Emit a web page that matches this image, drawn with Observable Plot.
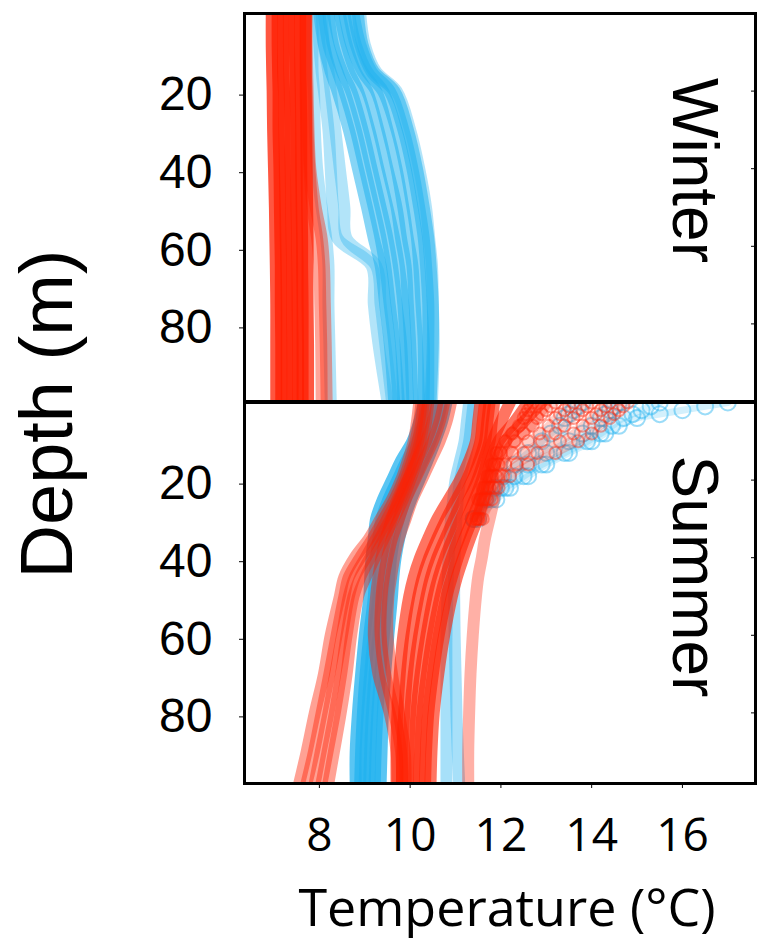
<!DOCTYPE html>
<html><head><meta charset="utf-8">
<script src="https://cdn.jsdelivr.net/npm/d3@7"></script>
<script src="https://cdn.jsdelivr.net/npm/@observablehq/plot@0.6"></script>
<style>
html,body{margin:0;padding:0;background:#fff;}
#chart{position:relative;width:758px;height:942px;overflow:hidden;background:#fff;}
#chart svg{display:block;}
#winter{position:absolute;left:0;top:0;}
#summer{position:absolute;left:0;top:402px;}
#labels{position:absolute;left:0;top:0;}
</style></head><body>
<div id="chart"><div id="winter"></div><div id="summer"></div></div>
<script>
// ---------- data ----------
const xDomain = [6.35, 17.61];
const xTicks = [8, 10, 12, 14, 16];
const yTicks = [20, 40, 60, 80];
const seasons = ["Winter", "Summer"];

// Winter: depth grid (m) and temperature profiles (°C)
const winterDepths = [0, 8, 15, 20, 30, 40, 50, 58, 65, 75, 85, 100];
const winterRed = [
  [6.95, 6.95, 6.96, 6.97, 6.98, 7.0, 7.02, 7.03, 7.04, 7.05, 7.05, 7.05],
  [7.08, 7.08, 7.09, 7.1, 7.1, 7.12, 7.13, 7.14, 7.15, 7.15, 7.16, 7.16],
  [7.2, 7.2, 7.2, 7.22, 7.23, 7.24, 7.25, 7.26, 7.27, 7.28, 7.28, 7.28],
  [7.33, 7.33, 7.34, 7.35, 7.36, 7.37, 7.38, 7.39, 7.4, 7.4, 7.41, 7.41],
  [7.46, 7.46, 7.47, 7.48, 7.49, 7.5, 7.5, 7.51, 7.52, 7.52, 7.53, 7.53],
  [7.58, 7.58, 7.58, 7.59, 7.6, 7.6, 7.61, 7.62, 7.62, 7.63, 7.63, 7.63],
  [7.7, 7.7, 7.7, 7.7, 7.71, 7.72, 7.73, 7.74, 7.74, 7.74, 7.75, 7.75]
];
const winterRedLight = [
  [7.72, 7.72, 7.73, 7.74, 7.76, 7.8, 7.92, 8.05, 8.1, 8.12, 8.14, 8.16],
  [7.7, 7.7, 7.7, 7.72, 7.74, 7.78, 7.85, 7.95, 8.0, 8.02, 8.04, 8.05]
];
const winterBlue = [
  [8.0, 8.1, 8.25, 8.4, 8.65, 8.85, 9.05, 9.2, 9.35, 9.45, 9.55, 9.65],
  [8.1, 8.2, 8.4, 8.55, 8.8, 9.0, 9.2, 9.35, 9.45, 9.55, 9.65, 9.75],
  [8.2, 8.3, 8.5, 8.7, 8.95, 9.15, 9.35, 9.5, 9.6, 9.7, 9.8, 9.85],
  [8.3, 8.45, 8.65, 8.85, 9.1, 9.3, 9.5, 9.65, 9.75, 9.85, 9.9, 9.95],
  [8.45, 8.6, 8.8, 9.05, 9.3, 9.5, 9.7, 9.8, 9.9, 9.95, 10.0, 10.05],
  [8.55, 8.7, 8.95, 9.25, 9.5, 9.7, 9.85, 9.95, 10.05, 10.1, 10.15, 10.2],
  [8.65, 8.8, 9.05, 9.4, 9.7, 9.9, 10.05, 10.15, 10.2, 10.25, 10.3, 10.3],
  [8.75, 8.9, 9.15, 9.55, 9.85, 10.05, 10.2, 10.3, 10.35, 10.4, 10.4, 10.4],
  [8.85, 8.95, 9.2, 9.65, 9.95, 10.15, 10.3, 10.4, 10.45, 10.5, 10.5, 10.45]
];
const winterBlueLight = [
  [7.85, 7.85, 7.85, 7.88, 7.9, 7.95, 8.05, 8.15, 8.2, 8.2, 8.22, 8.25],
  [7.97, 8.0, 8.05, 8.1, 8.2, 8.25, 8.3, 8.4, 9.15, 9.2, 9.3, 9.5],
  [8.05, 8.1, 8.2, 8.25, 8.35, 8.45, 8.55, 8.6, 9.25, 9.35, 9.45, 9.6],
  [8.9, 9.0, 9.25, 9.7, 10.0, 10.2, 10.35, 10.42, 10.48, 10.5, 10.52, 10.48]
];

// Summer: depth grid (m) and temperature profiles (°C)
const summerDepths = [0, 5, 10, 15, 20, 25, 30, 35, 40, 45, 50, 60, 70, 80, 90, 98];
const summerRedLeft = [
  [10.2, 10.15, 10.08, 9.95, 9.8, 9.6, 9.35, 9.1, 8.78, 8.55, 8.45, 8.25, 8.1, 7.9, 7.72, 7.56],
  [10.25, 10.2, 10.12, 10.0, 9.85, 9.66, 9.42, 9.18, 8.9, 8.65, 8.55, 8.38, 8.22, 8.05, 7.88, 7.72],
  [10.3, 10.25, 10.17, 10.05, 9.9, 9.72, 9.5, 9.26, 9.02, 8.78, 8.65, 8.5, 8.35, 8.2, 8.03, 7.9],
  [10.35, 10.3, 10.22, 10.1, 9.95, 9.78, 9.57, 9.34, 9.12, 8.9, 8.75, 8.6, 8.48, 8.34, 8.18, 8.05],
  [10.4, 10.35, 10.27, 10.15, 10.0, 9.84, 9.64, 9.42, 9.22, 9.02, 8.85, 8.7, 8.6, 8.47, 8.32, 8.2]
];
const summerRedMid = [
  [10.6, 10.5, 10.35, 10.15, 9.95, 9.75, 9.6, 9.47, 9.37, 9.3, 9.25, 9.2, 9.3, 9.55, 9.7, 9.72],
  [10.75, 10.65, 10.5, 10.3, 10.1, 9.9, 9.75, 9.6, 9.5, 9.42, 9.37, 9.35, 9.45, 9.65, 9.8, 9.82],
  [10.9, 10.8, 10.65, 10.45, 10.25, 10.05, 9.9, 9.75, 9.65, 9.58, 9.52, 9.5, 9.6, 9.75, 9.88, 9.9]
];
const summerRedRight = [
  [11.55, 11.5, 11.45, 11.3, 11.1, 10.85, 10.6, 10.4, 10.22, 10.08, 9.98, 9.85, 9.77, 9.72, 9.7, 9.7],
  [11.65, 11.6, 11.55, 11.42, 11.25, 11.02, 10.8, 10.6, 10.42, 10.28, 10.18, 10.03, 9.93, 9.87, 9.83, 9.82],
  [11.75, 11.7, 11.65, 11.52, 11.37, 11.17, 10.97, 10.78, 10.6, 10.46, 10.36, 10.2, 10.08, 10.0, 9.96, 9.95],
  [11.85, 11.8, 11.75, 11.62, 11.48, 11.3, 11.12, 10.94, 10.77, 10.63, 10.52, 10.36, 10.23, 10.14, 10.1, 10.08],
  [12.2, 12.0, 11.82, 11.7, 11.58, 11.42, 11.25, 11.08, 10.92, 10.78, 10.67, 10.5, 10.37, 10.27, 10.22, 10.2],
  [12.6, 12.3, 11.95, 11.78, 11.67, 11.53, 11.37, 11.2, 11.05, 10.92, 10.8, 10.63, 10.5, 10.4, 10.35, 10.33],
  [12.9, 12.5, 12.1, 11.9, 11.75, 11.62, 11.48, 11.32, 11.17, 11.03, 10.92, 10.75, 10.62, 10.52, 10.47, 10.45]
];
const summerRedPale = [
  [13.0, 12.7, 12.3, 12.05, 11.95, 11.85, 11.75, 11.65, 11.58, 11.5, 11.45, 11.38, 11.33, 11.3, 11.28, 11.28]
];
const summerBlue = [
  [10.3, 10.2, 10.05, 9.8, 9.6, 9.4, 9.25, 9.2, 9.15, 9.12, 9.1, 9.0, 8.92, 8.85, 8.8, 8.8],
  [10.4, 10.3, 10.15, 9.92, 9.72, 9.52, 9.37, 9.3, 9.25, 9.22, 9.2, 9.1, 9.02, 8.96, 8.92, 8.9],
  [10.5, 10.4, 10.25, 10.05, 9.85, 9.65, 9.5, 9.42, 9.37, 9.33, 9.3, 9.2, 9.12, 9.06, 9.02, 9.0],
  [10.6, 10.5, 10.35, 10.15, 9.97, 9.78, 9.62, 9.53, 9.48, 9.44, 9.4, 9.3, 9.22, 9.16, 9.12, 9.1],
  [10.7, 10.6, 10.45, 10.27, 10.08, 9.9, 9.75, 9.65, 9.58, 9.54, 9.5, 9.42, 9.34, 9.28, 9.24, 9.22],
  [10.8, 10.7, 10.55, 10.38, 10.2, 10.02, 9.87, 9.76, 9.68, 9.63, 9.6, 9.52, 9.45, 9.4, 9.37, 9.35]
];
const summerBlueLight = [
  [11.3, 11.25, 11.2, 11.1, 11.0, 10.95, 10.9, 10.88, 10.85, 10.83, 10.82, 10.8, 10.8, 10.8, 10.8, 10.8],
  [11.4, 11.35, 11.3, 11.2, 11.1, 11.05, 11.02, 11.0, 10.98, 10.97, 10.97, 10.98, 11.0, 11.02, 11.05, 11.08]
];
// Summer surface layer: finer depth grid
const surfaceDepths = [0, 1, 2, 3, 4, 6, 8, 10, 13, 16, 19, 22, 25, 30];
const surfaceBlue = [
  [17.0, 16.5, 16.0, 15.5, 15.0, 14.6, 14.3, 14.0, 13.5, 13.0, 12.6, 12.2, 11.9, 11.5],
  [15.5, 15.3, 15.1, 14.9, 14.7, 14.45, 14.2, 13.9, 13.4, 12.9, 12.5, 12.1, 11.8, 11.4],
  [14.6, 14.5, 14.4, 14.3, 14.2, 14.0, 13.8, 13.5, 13.0, 12.6, 12.3, 12.0, 11.7, 11.4],
  [13.8, 13.7, 13.6, 13.5, 13.4, 13.3, 13.1, 12.9, 12.6, 12.3, 12.05, 11.85, 11.65, 11.4]
];
const surfaceRed = [
  [14.8, 14.7, 14.6, 14.5, 14.4, 14.2, 14.0, 13.7, 13.2, 12.6, 12.2, 11.95, 11.8, 11.6],
  [14.4, 14.3, 14.2, 14.1, 14.0, 13.8, 13.6, 13.3, 12.8, 12.35, 12.05, 11.85, 11.7, 11.55],
  [14.0, 13.9, 13.8, 13.7, 13.6, 13.4, 13.2, 12.9, 12.5, 12.1, 11.9, 11.75, 11.65, 11.5],
  [13.6, 13.5, 13.4, 13.3, 13.2, 13.05, 12.85, 12.6, 12.25, 11.95, 11.8, 11.7, 11.6, 11.5],
  [13.2, 13.1, 13.0, 12.9, 12.8, 12.7, 12.5, 12.3, 12.0, 11.85, 11.75, 11.65, 11.55, 11.45],
  [12.7, 12.65, 12.6, 12.55, 12.5, 12.4, 12.25, 12.1, 11.9, 11.8, 11.7, 11.6, 11.5, 11.4]
];

// ---------- helpers ----------
const RED = "#ff1e00", BLUE = "#22b2ef";
const SANS = "Liberation Sans, Arial, sans-serif";
function rows(depths, profiles, key) {
  return profiles.flatMap((temps, i) => temps.map((t, j) => ({id: key + i, depth: depths[j], temp: t})));
}
function band(data, stroke, opacity, width = 12) {
  return Plot.line(data, {x: "temp", y: "depth", z: "id", stroke, strokeOpacity: opacity,
    strokeWidth: width, strokeLinecap: "round", strokeLinejoin: "round", curve: "catmull-rom", clip: true});
}
function rings(data, stroke, opacity, r) {
  return Plot.dot(data, {x: "temp", y: "depth", r, stroke, strokeOpacity: opacity, strokeWidth: 2, fill: "none", clip: true});
}
function axesY() {
  return [
    Plot.axisY({ticks: yTicks, tickSize: 5, tickPadding: 27, fontSize: 48, fontFamily: SANS, dy: 4, label: null, color: "#000"}),
    Plot.axisY({anchor: "right", ticks: yTicks, tickSize: 5, insetRight: 5, tickFormat: () => "", label: null})
  ];
}
function seasonLabel(name, dy) {
  return Plot.text([name], {text: d => d, frameAnchor: "top-right", rotate: 90, dx: -83, dy,
    fontSize: 64, fontFamily: SANS, textAnchor: "middle", lineAnchor: "bottom", fill: "#000"});
}

// ---------- winter ----------
const winter = Plot.plot({
  width: 758, height: 402, marginLeft: 244, marginRight: 3, marginTop: 13, marginBottom: 1,
  style: {background: "transparent", overflow: "visible"},
  x: {domain: xDomain, axis: null},
  y: {domain: [0, 100], reverse: true, label: null},
  marks: [
    band(rows(winterDepths, winterBlueLight, "wbl"), BLUE, 0.35),
    band(rows(winterDepths, winterBlue, "wb"), BLUE, 0.55),
    band(rows(winterDepths, winterRedLight, "wrl"), RED, 0.4),
    band(rows(winterDepths, winterRed, "wr"), RED, 0.75),
    ...axesY(),
    Plot.frame({stroke: "#000", strokeWidth: 3}),
    seasonLabel(seasons[0], 157)
  ]
});
document.getElementById("winter").append(winter);

// ---------- summer ----------
const summer = Plot.plot({
  width: 758, height: 540, marginLeft: 244, marginRight: 3, marginTop: 0, marginBottom: 159,
  style: {background: "transparent", overflow: "visible"},
  x: {domain: xDomain, label: null},
  y: {domain: [0, 98.2], reverse: true, label: null},
  marks: [
    band(rows(summerDepths, summerBlueLight, "sbl"), BLUE, 0.4),
    band(rows(surfaceDepths, surfaceBlue, "tb"), BLUE, 0.2, 7),
    rings(rows(surfaceDepths, surfaceBlue, "tb"), BLUE, 0.45, 8),
    band(rows(summerDepths, summerBlue, "sb"), BLUE, 0.75),
    band(rows(summerDepths, summerRedLeft, "srl"), RED, 0.42),
    band(rows(summerDepths, summerRedMid, "srm"), RED, 0.45),
    band(rows(summerDepths, summerRedPale, "srp"), RED, 0.35),
    band(rows(surfaceDepths, surfaceRed, "tr"), RED, 0.22, 8),
    rings(rows(surfaceDepths, surfaceRed, "tr"), RED, 0.4, 6),
    band(rows(summerDepths, summerRedRight, "srr"), RED, 0.62),
    Plot.axisX({ticks: xTicks, tickSize: 5, tickPadding: 30, fontSize: 46, fontFamily: "Open Sans, sans-serif", label: null, color: "#000"}),
    ...axesY(),
    Plot.frame({stroke: "#000", strokeWidth: 3}),
    seasonLabel(seasons[1], 174)
  ]
});
document.getElementById("summer").append(summer);

// ---------- axis titles ----------
const ov = d3.select("#chart").append("svg").attr("id", "labels")
  .attr("width", 758).attr("height", 942).style("pointer-events", "none");
ov.append("text").attr("transform", "translate(72,414) rotate(-90)")
  .attr("text-anchor", "middle").attr("font-family", SANS)
  .attr("font-size", 74).attr("fill", "#000").text("Depth (m)");
ov.append("text").attr("x", 507).attr("y", 926)
  .attr("text-anchor", "middle").attr("font-family", "Open Sans, sans-serif")
  .attr("font-size", 52).attr("fill", "#000").text("Temperature (°C)");
</script>
</body></html>
